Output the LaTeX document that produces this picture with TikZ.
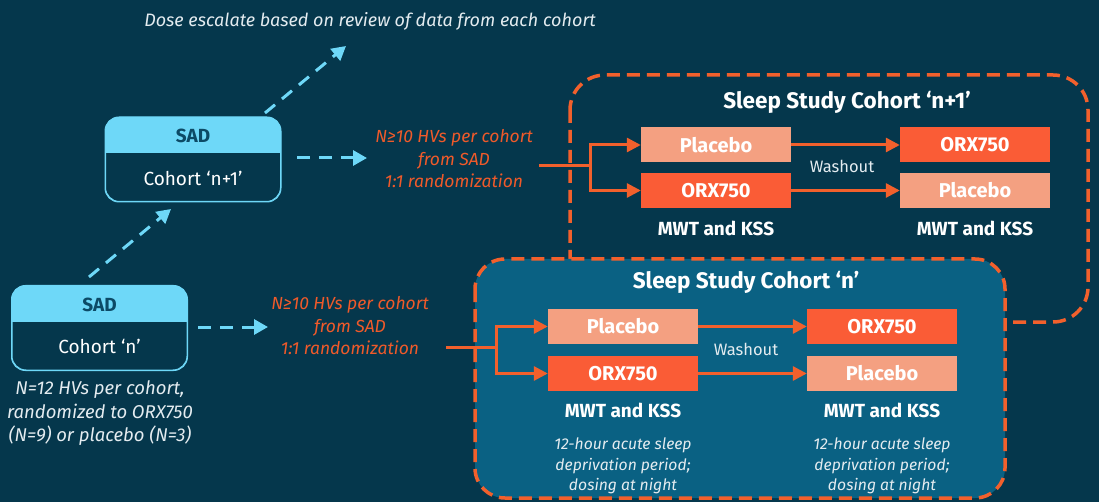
\documentclass[tikz,border=0pt]{standalone}
\usepackage{fontspec}
\setmainfont{Fira Sans}
\usetikzlibrary{arrows.meta}
\definecolor{bg}{HTML}{05374C}
\definecolor{inbox}{HTML}{0A6183}
\definecolor{sadc}{HTML}{6ED8F8}
\definecolor{sadtxt}{HTML}{0C4A66}
\definecolor{orx}{HTML}{FA5C36}
\definecolor{pla}{HTML}{F4A081}
\definecolor{orl}{HTML}{F2602C}
\definecolor{ortxt}{HTML}{F05A2A}
\definecolor{soft}{HTML}{E4ECF0}
\newcommand{\fs}[1]{\fontsize{#1}{#1}\selectfont}
\begin{document}
\begin{tikzpicture}[x=1pt,y=-1pt,
  sadbox/.style={draw=sadc, line width=1pt, rounded corners=14pt, fill=bg,
    minimum width=175pt, minimum height=84pt, inner sep=0pt},
  sadhead/.style={text=sadtxt, font=\bfseries\fs{19}},
  sadbody/.style={text=white, font=\fs{19}},
  drug/.style={minimum width=150pt, minimum height=35pt, inner sep=0pt,
    text=white, font=\bfseries\fs{20}},
  orxbox/.style={drug, fill=orx},
  plabox/.style={drug, fill=pla},
  cyarrow/.style={draw=sadc, line width=3pt, dash pattern=on 13pt off 9pt,
    -{Triangle[length=14pt,width=15pt]}},
  orline/.style={draw=orl, line width=3pt},
  orarrow/.style={draw=orl, line width=3pt, -{Triangle[length=14pt,width=14pt]}},
  dbox/.style={draw=orl, line width=3.5pt, dash pattern=on 13pt off 7pt},
  title/.style={text=white, font=\bfseries\fs{22.5}},
  mwt/.style={text=white, font=\bfseries\fs{19}},
  wash/.style={text=soft, font=\fs{16.5}},
  note/.style={text=soft, font=\itshape\fs{15.7}, align=center},
  ornote/.style={text=ortxt, font=\itshape\fs{17.5}, align=center},
  wnote/.style={text=soft, font=\itshape\fs{18.5}, align=center}
]
\useasboundingbox (0,0) rectangle (1099,502);
\fill[bg] (0,0) rectangle (1099,502);

% ---------- Sleep study cohort n+1 (behind) ----------
\draw[dbox, rounded corners=35pt] (570,75) rectangle (1088,322);
% ---------- Sleep study cohort n (front) ----------
\draw[dbox, fill=inbox, rounded corners=30pt] (475,259) rectangle (1005,498);

% ---------- SAD boxes ----------
\node[sadbox] (sadA) at (193,159.5) {};
\begin{scope}
  \clip[rounded corners=14pt] (sadA.south west) rectangle (sadA.north east);
  \fill[sadc] (106,117) rectangle (281,153);
\end{scope}
\draw[sadc, line width=1pt, rounded corners=14pt] (sadA.south west) rectangle (sadA.north east);
\node[sadhead] (sadAh) at (193,136) {SAD};
\node[sadbody] (sadAb) at (193,178) {Cohort ‘n+1’};

\node[sadbox] (sadB) at (99.5,328) {};
\begin{scope}
  \clip[rounded corners=14pt] (sadB.south west) rectangle (sadB.north east);
  \fill[sadc] (12,286) rectangle (187,322);
\end{scope}
\draw[sadc, line width=1pt, rounded corners=14pt] (sadB.south west) rectangle (sadB.north east);
\node[sadhead] (sadBh) at (99.5,305) {SAD};
\node[sadbody] (sadBb) at (99.5,346) {Cohort ‘n’};

\node[wnote] (sadBnote) at (100,413.5) {N=12 HVs per cohort,\\[5pt]randomized to ORX750\\[5pt](N=9) or placebo (N=3)};

\node[wnote, font=\itshape\fs{18}] (dose) at (370,21) {Dose escalate based on review of data from each cohort};

% ---------- cyan dashed arrows ----------
\coordinate (d1s) at (89,277);
\coordinate (d1e) at (171,209);
\coordinate (d2s) at (265,113);
\coordinate (d2e) at (346,46);
\coordinate (hAs) at (297,158);
\coordinate (hAe) at (367,158);
\coordinate (hBs) at (198,327);
\coordinate (hBe) at (268,327);
\draw[cyarrow] (d1s) -- (d1e);
\draw[cyarrow] (d2s) -- (d2e);
\draw[cyarrow] (hAs) -- (hAe);
\draw[cyarrow] (hBs) -- (hBe);

% ---------- orange notes ----------
\node[ornote] (orA) at (454,159) {N≥10 HVs per cohort\\[5pt]from SAD\\[5pt]1:1 randomization};
\node[ornote] (orB) at (350,326) {N≥10 HVs per cohort\\[5pt]from SAD\\[5pt]1:1 randomization};

% ---------- cohort n+1 contents ----------
\node[title] (tA) at (847,102) {Sleep Study Cohort ‘n+1’};
\node[plabox] (A1) at (716,145) {Placebo};
\node[orxbox] (A2) at (716,190.5) {ORX750};
\node[orxbox] (A3) at (975,145) {ORX750};
\node[plabox] (A4) at (975,190.5) {Placebo};
\node[wash] (wA) at (842,166) {Washout};
\node[mwt] (mA1) at (716,228) {MWT and KSS};
\node[mwt] (mA2) at (975,228) {MWT and KSS};
\coordinate (inA) at (539,166);
\coordinate (brA) at (590,166);
\draw[orline] (inA) -- (brA);
\draw[orarrow] (brA) |- (A1.west);
\draw[orarrow] (brA) |- (A2.west);
\draw[orarrow] (A1.east) -- (A3.west);
\draw[orarrow] (A2.east) -- (A4.west);

% ---------- cohort n contents ----------
\node[title] (tB) at (746,282) {Sleep Study Cohort ‘n’};
\node[plabox] (B1) at (623,326.5) {Placebo};
\node[orxbox] (B2) at (623,373.5) {ORX750};
\node[orxbox] (B3) at (882,326.5) {ORX750};
\node[plabox] (B4) at (882,373.5) {Placebo};
\node[wash] (wB) at (746,349) {Washout};
\node[mwt] (mB1) at (623,410) {MWT and KSS};
\node[mwt] (mB2) at (882,410) {MWT and KSS};
\node[note] (nB1) at (623,466) {12-hour acute sleep\\[5pt]deprivation period;\\[5pt]dosing at night};
\node[note] (nB2) at (882,466) {12-hour acute sleep\\[5pt]deprivation period;\\[5pt]dosing at night};
\coordinate (inB) at (446,347);
\coordinate (brB) at (496,347);
\draw[orline] (inB) -- (brB);
\draw[orarrow] (brB) |- (B1.west);
\draw[orarrow] (brB) |- (B2.west);
\draw[orarrow] (B1.east) -- (B3.west);
\draw[orarrow] (B2.east) -- (B4.west);
\end{tikzpicture}
\end{document}
